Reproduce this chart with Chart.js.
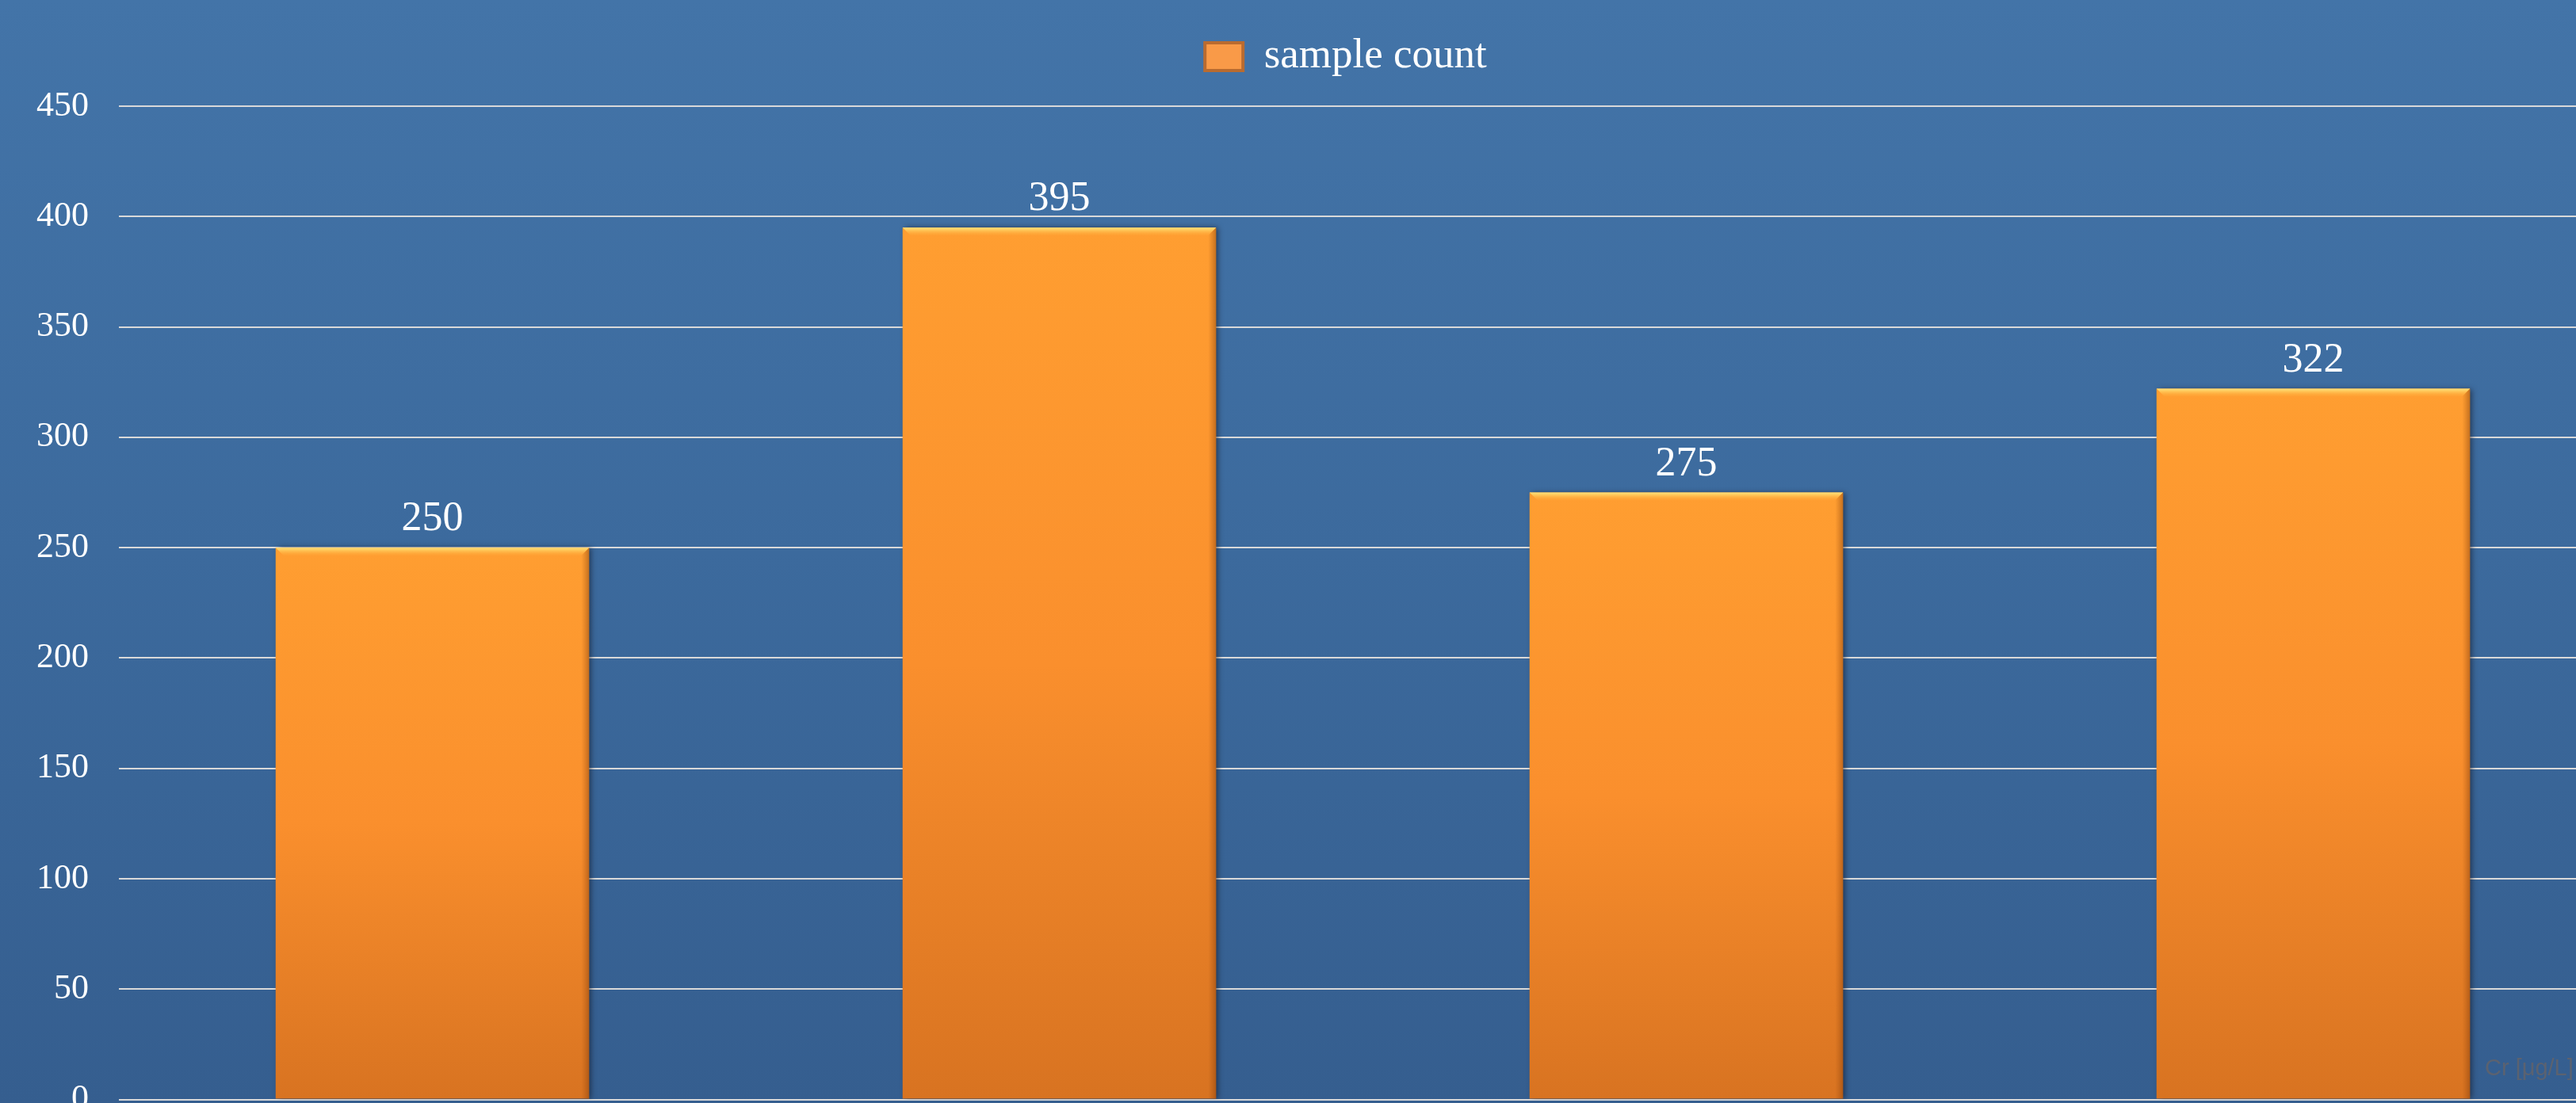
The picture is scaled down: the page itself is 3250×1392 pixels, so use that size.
<!DOCTYPE html>
<html>
<head>
<meta charset="utf-8">
<script src="https://cdn.jsdelivr.net/npm/chart.js@4.4.1/dist/chart.umd.min.js"></script>
<style>
html, body {
    margin: 0; padding: 0; width: 3250px; height: 1392px; overflow: hidden;
    background: linear-gradient(180deg, #4374a8 0%, #3c6a9d 50%, #355e8f 100%);
}
#wrap { position: absolute; left: 0; top: 0; width: 3314px; height: 1452px; }
#unit {
    position: absolute; left: 3135px; top: 1331px; white-space: nowrap;
    font: 29px "Liberation Sans", sans-serif; color: #5b6270;
}
</style>
</head>
<body>
<div id="wrap"><canvas id="barChart"></canvas></div>
<div id="unit">Cr [μg/L]</div>
<script>
const categories = ["1", "2", "3", "4"];
const sampleCount = [250, 395, 275, 322];
const yTicks = [0, 50, 100, 150, 200, 250, 300, 350, 400, 450];
const seriesName = "sample count";

document.addEventListener("DOMContentLoaded", () => {

    // extra room under the legend, and nudge it right
    const legendGap = {
        id: "legendGap",
        beforeInit(chart) {
            const fit = chart.legend.fit;
            chart.legend.fit = function () {
                fit.bind(chart.legend)();
                this.height += 26;
            };
        },
        afterLayout(chart) {
            chart.legend.left += 42;
        }
    };

    // shadow + bevel on bars, value labels on top
    const barLook = {
        id: "barLook",
        beforeDatasetsDraw(chart) {
            const c = chart.ctx;
            c.save();
            c.shadowColor = "rgba(15,20,35,0.6)";
            c.shadowBlur = 7;
            c.shadowOffsetX = 3;
        },
        afterDatasetsDraw(chart) {
            const c = chart.ctx;
            c.restore();
            const meta = chart.getDatasetMeta(0);
            meta.data.forEach((bar, i) => {
                const x0 = bar.x - bar.width / 2, x1 = bar.x + bar.width / 2;
                const top = bar.y, bot = bar.base, b = 10;
                c.save();
                let g = c.createLinearGradient(0, top, 0, top + b);
                g.addColorStop(0, "#ffe27c");
                g.addColorStop(0.35, "#ffc455");
                g.addColorStop(1, "rgba(255,170,58,0.15)");
                c.fillStyle = g;
                c.beginPath();
                c.moveTo(x0, top); c.lineTo(x1, top); c.lineTo(x1 - b, top + b); c.lineTo(x0 + b, top + b);
                c.closePath(); c.fill();
                g = c.createLinearGradient(x1 - b, 0, x1, 0);
                g.addColorStop(0, "rgba(150,70,10,0)");
                g.addColorStop(1, "rgba(120,55,10,0.45)");
                c.fillStyle = g;
                c.beginPath();
                c.moveTo(x1, top); c.lineTo(x1, bot); c.lineTo(x1 - b, bot); c.lineTo(x1 - b, top + b);
                c.closePath(); c.fill();
                c.restore();

                c.save();
                c.font = '52px "Liberation Serif"';
                c.fillStyle = "#ffffff";
                c.textAlign = "center";
                c.textBaseline = "alphabetic";
                c.fillText(String(sampleCount[i]), bar.x, top - 22);
                c.restore();
            });
        }
    };

    new Chart(document.getElementById("barChart"), {
        type: "bar",
        data: {
            labels: categories,
            datasets: [{
                label: seriesName,
                data: sampleCount,
                backgroundColor: ctx => {
                    const chart = ctx.chart;
                    if (!chart.chartArea || !ctx.parsed) return "#f7962f";
                    const y = chart.scales.y;
                    const top = y.getPixelForValue(ctx.parsed.y), bot = y.getPixelForValue(0);
                    const g = chart.ctx.createLinearGradient(0, top, 0, bot);
                    g.addColorStop(0, "#ff9e31");
                    g.addColorStop(0.5, "#fa8f2d");
                    g.addColorStop(1, "#d87321");
                    return g;
                },
                borderWidth: 0,
                categoryPercentage: 1,
                barPercentage: 0.5
            }]
        },
        options: {
            responsive: true,
            maintainAspectRatio: false,
            animation: false,
            layout: { padding: { left: 40, right: 0, top: 20, bottom: 44 } },
            plugins: {
                tooltip: { enabled: false },
                legend: {
                    position: "top",
                    labels: {
                        boxWidth: 48,
                        boxHeight: 35,
                        padding: 25,
                        color: "#ffffff",
                        font: { family: "Liberation Serif", size: 53 },
                        generateLabels: chart => chart.data.datasets.map((ds, i) => ({
                            text: ds.label,
                            fillStyle: "#f99a48",
                            strokeStyle: "#b96b30",
                            lineWidth: 4,
                            hidden: false,
                            datasetIndex: i,
                            fontColor: "#ffffff"
                        }))
                    }
                }
            },
            scales: {
                x: { display: false },
                y: {
                    min: yTicks[0],
                    max: yTicks[yTicks.length - 1],
                    afterFit: s => { s.width = 110; },
                    afterBuildTicks: s => { s.ticks = yTicks.map(v => ({ value: v })); },
                    border: { display: false },
                    grid: { color: "#d9d9d9", lineWidth: 2, drawTicks: false },
                    ticks: {
                        padding: 38,
                        color: "#ffffff",
                        font: { family: "Liberation Serif", size: 44 }
                    }
                }
            }
        },
        plugins: [legendGap, barLook]
    });

});
</script>
</body>
</html>
